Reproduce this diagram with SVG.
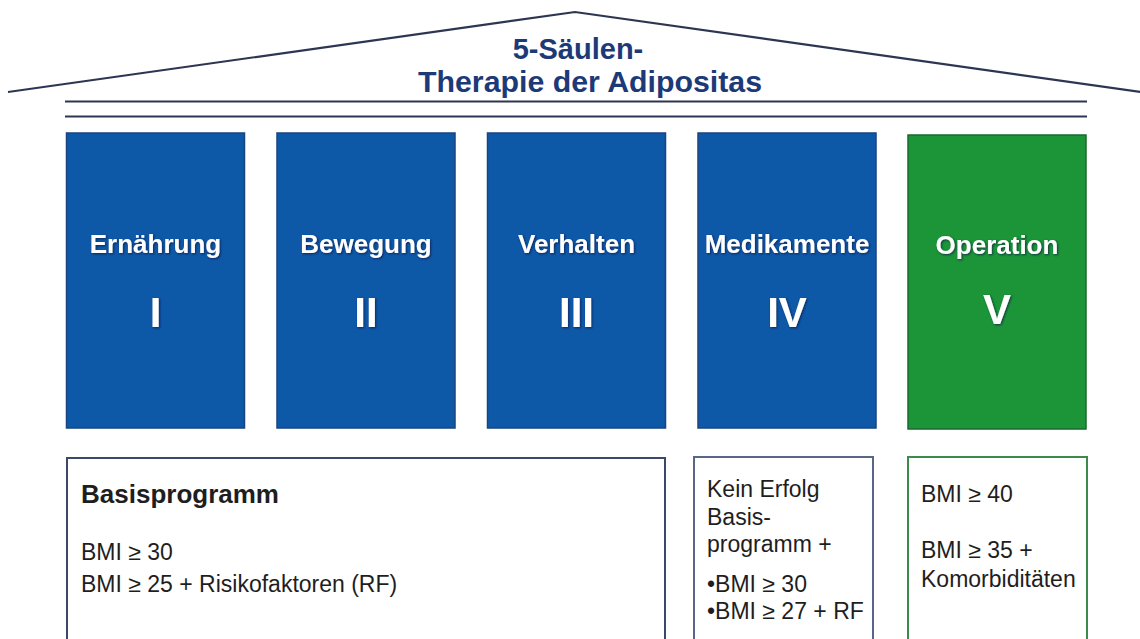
<svg xmlns="http://www.w3.org/2000/svg" width="1140" height="639" viewBox="0 0 1140 639">
<defs>
<filter id="sh" x="-10%" y="-20%" width="120%" height="140%">
<feDropShadow dx="1" dy="1" stdDeviation="0.8" flood-color="#0a1f45" flood-opacity="0.8"/>
</filter>
</defs>
<style>
.roof{fill:none;stroke:#2c3552;stroke-width:2.2;stroke-linejoin:miter}
.beam{stroke:#2c3552;stroke-width:2.2}
.title{font-family:"Liberation Sans",Arial,sans-serif;font-weight:bold;font-size:29px;fill:#1d3a78;text-anchor:middle}
.pb{fill:#0e58a8;stroke:#1a4380;stroke-width:1.5}
.pg{fill:#1b9538;stroke:#186a2c;stroke-width:1.5}
.pl{font-family:"Liberation Sans",Arial,sans-serif;font-weight:bold;font-size:26px;fill:#ffffff;text-anchor:middle;filter:url(#sh)}
.pn{font-family:"Liberation Sans",Arial,sans-serif;font-weight:bold;font-size:42px;fill:#ffffff;text-anchor:middle;filter:url(#sh)}
.bx{fill:#ffffff;stroke-width:2}
.t{font-family:"Liberation Sans",Arial,sans-serif;font-size:23px;fill:#1e1e1e}
.tb{font-family:"Liberation Sans",Arial,sans-serif;font-size:26px;font-weight:bold;fill:#1e1e1e}
</style>
<rect width="1140" height="639" fill="#ffffff"/>
<g id="roof">
<polyline class="roof" points="8,92 575,12 1141,92"/>
<line class="beam" x1="65" y1="101.5" x2="1087" y2="101.5"/>
<line class="beam" x1="65" y1="116.5" x2="1087" y2="116.5"/>
<text class="title" x="578" y="59">5-Säulen-</text>
<text class="title" x="590" y="92" textLength="344" lengthAdjust="spacingAndGlyphs">Therapie der Adipositas</text>
</g>
<g id="connectors"></g>
<g id="pillar1">
<rect class="pb" x="66.5" y="133" width="178" height="295"/>
<text class="pl" x="155.5" y="253">Ernährung</text>
<text class="pn" x="155.5" y="327">I</text>
</g>
<g id="pillar2">
<rect class="pb" x="277" y="133" width="178" height="295"/>
<text class="pl" x="366" y="253">Bewegung</text>
<text class="pn" x="366" y="327">II</text>
</g>
<g id="pillar3">
<rect class="pb" x="487.5" y="133" width="178" height="295"/>
<text class="pl" x="576.5" y="253">Verhalten</text>
<text class="pn" x="576.5" y="327">III</text>
</g>
<g id="pillar4">
<rect class="pb" x="698" y="133" width="178" height="295"/>
<text class="pl" x="787" y="253">Medikamente</text>
<text class="pn" x="787" y="327">IV</text>
</g>
<g id="pillar5">
<rect class="pg" x="908" y="135" width="178" height="294"/>
<text class="pl" x="997" y="254">Operation</text>
<text class="pn" x="997" y="324">V</text>
</g>
<g id="box-basis">
<rect class="bx" x="67" y="458" width="598" height="200" stroke="#3c4868"/>
<text class="tb" x="81" y="503">Basisprogramm</text>
<text class="t" x="81" y="560">BMI ≥ 30</text>
<text class="t" x="81" y="592">BMI ≥ 25 + Risikofaktoren (RF)</text>
</g>
<g id="box-medikamente">
<rect class="bx" x="694" y="457" width="179" height="200" stroke="#5a6588"/>
<text class="t" x="707" y="497">Kein Erfolg</text>
<text class="t" x="707" y="525">Basis-</text>
<text class="t" x="707" y="552">programm +</text>
<text class="t" x="707" y="592">•BMI ≥ 30</text>
<text class="t" x="707" y="619">•BMI ≥ 27 + RF</text>
</g>
<g id="box-operation">
<rect class="bx" x="908" y="457" width="179" height="200" stroke="#3e8a4c"/>
<text class="t" x="921" y="502">BMI ≥ 40</text>
<text class="t" x="921" y="558">BMI ≥ 35 +</text>
<text class="t" x="921" y="587">Komorbiditäten</text>
</g>
</svg>
